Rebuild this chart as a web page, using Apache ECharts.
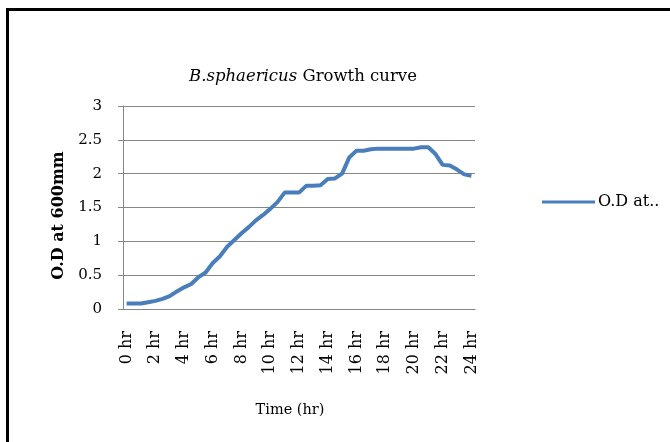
<!DOCTYPE html>
<html>
<head>
<meta charset="utf-8">
<script src="https://cdn.jsdelivr.net/npm/echarts@6/dist/echarts.min.js"></script>
<style>
html,body{margin:0;padding:0;background:#fff;}
#c{width:670px;height:442px;}
</style>
</head>
<body>
<div id="c"></div>
<script>
var categories = ["0 hr","0.5 hr","1 hr","1.5 hr","2 hr","2.5 hr","3 hr","3.5 hr","4 hr","4.5 hr","5 hr","5.5 hr","6 hr","6.5 hr","7 hr","7.5 hr","8 hr","8.5 hr","9 hr","9.5 hr","10 hr","10.5 hr","11 hr","11.5 hr","12 hr","12.5 hr","13 hr","13.5 hr","14 hr","14.5 hr","15 hr","15.5 hr","16 hr","16.5 hr","17 hr","17.5 hr","18 hr","18.5 hr","19 hr","19.5 hr","20 hr","20.5 hr","21 hr","21.5 hr","22 hr","22.5 hr","23 hr","23.5 hr","24 hr"];
var odValues = [0.08,0.08,0.08,0.10,0.12,0.15,0.19,0.26,0.32,0.37,0.47,0.54,0.68,0.78,0.92,1.02,1.12,1.21,1.31,1.39,1.48,1.58,1.72,1.72,1.72,1.82,1.82,1.83,1.92,1.93,2.00,2.24,2.34,2.34,2.36,2.37,2.37,2.37,2.37,2.37,2.37,2.39,2.39,2.29,2.13,2.12,2.06,1.99,1.97];
var seriesName = "O.D at..";
var yTicks = {min: 0, max: 3, interval: 0.5};

var font = "'DejaVu Serif', 'Liberation Serif', serif";
var chart = echarts.init(document.getElementById('c'), null, {renderer: 'canvas'});
chart.setOption({
  backgroundColor: '#ffffff',
  animation: false,
  graphic: [{
    type: 'polyline',
    shape: {points: [[7.5, 442], [7.5, 9.5], [670, 9.5]]},
    style: {stroke: '#000', lineWidth: 3, fill: null}
  }],
  title: {
    text: '{i|B.sphaericus} Growth curve',
    left: 298, top: 63, textAlign: 'center',
    textStyle: {
      fontFamily: font, fontSize: 16.5, fontWeight: 'normal', color: '#000',
      rich: {i: {fontFamily: font, fontSize: 16.5, fontStyle: 'italic', color: '#000'}}
    }
  },
  legend: {
    left: 542, top: 194, padding: 0,
    icon: 'rect', itemWidth: 53, itemHeight: 3, itemGap: 3,
    textStyle: {fontFamily: font, fontSize: 16, color: '#000', padding: [0,0,0,-2]},
    data: [seriesName]
  },
  grid: {left: 123, right: 195, top: 106, bottom: 133, containLabel: false},
  xAxis: {
    type: 'category', data: categories, boundaryGap: true,
    name: 'Time (hr)', nameLocation: 'middle', nameGap: 94,
    nameTextStyle: {fontFamily: font, fontSize: 14.5, color: '#000', padding: [0, 18, 0, 0]},
    axisLine: {lineStyle: {color: '#868686', width: 1}},
    axisTick: {show: false},
    axisLabel: {interval: 3, rotate: 90, margin: 22, fontFamily: font, fontSize: 16, color: '#000'}
  },
  yAxis: {
    type: 'value', min: yTicks.min, max: yTicks.max, interval: yTicks.interval,
    name: 'O.D at 600mm', nameLocation: 'middle', nameGap: 55,
    nameTextStyle: {fontFamily: font, fontSize: 16, fontWeight: 'bold', color: '#000', padding: [0, 16, 0, 0]},
    axisLine: {show: true, lineStyle: {color: '#868686', width: 1}},
    axisTick: {show: true, length: 5, lineStyle: {color: '#868686'}},
    axisLabel: {margin: 21, fontFamily: font, fontSize: 15, color: '#000'},
    splitLine: {lineStyle: {color: '#868686', width: 1}}
  },
  series: [{
    name: seriesName, type: 'line', data: odValues,
    symbol: 'none', smooth: false,
    lineStyle: {color: '#4A7EBB', width: 4},
    itemStyle: {color: '#4A7EBB'}
  }]
});
</script>
</body>
</html>
